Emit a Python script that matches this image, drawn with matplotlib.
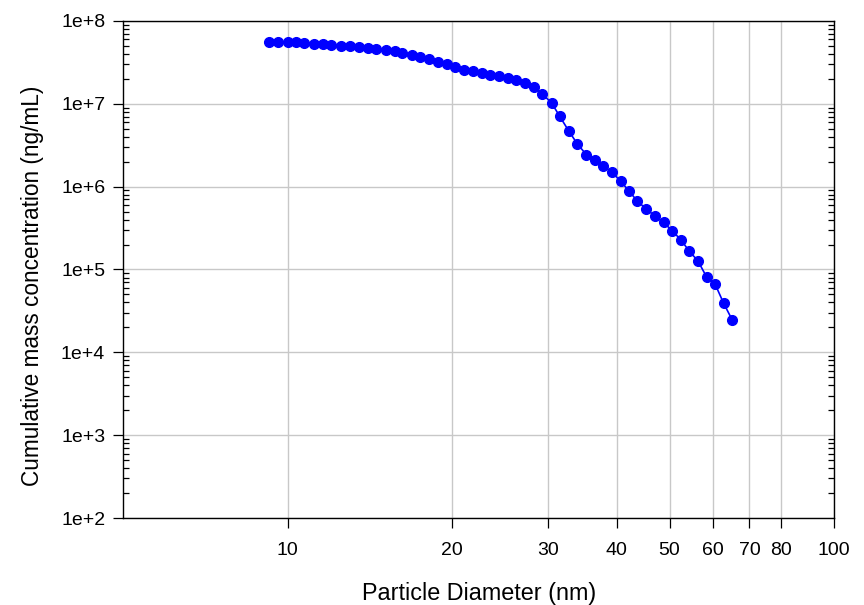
import numpy as np
import matplotlib
matplotlib.use('Agg')
from matplotlib import pyplot as plt
from matplotlib.ticker import FixedLocator, FixedFormatter, LogLocator, NullFormatter

plt.rcParams['font.family'] = ['Liberation Sans', 'DejaVu Sans']

# particle diameter (nm)
diam = [9.23, 9.61, 10.0, 10.34, 10.73, 11.19, 11.61, 12.02, 12.51, 13.01,
        13.52, 14.02, 14.52, 15.10, 15.69, 16.20, 16.88, 17.48, 18.16, 18.83,
        19.56, 20.27, 21.05, 21.86, 22.65, 23.49, 24.36, 25.27, 26.21, 27.23,
        28.24, 29.21, 30.42, 31.47, 32.69, 33.91, 35.22, 36.52, 37.84, 39.24,
        40.66, 42.15, 43.65, 45.29, 46.99, 48.74, 50.53, 52.42, 54.31, 56.35,
        58.45, 60.53, 62.80, 65.11]
# cumulative mass concentration (ng/mL)
mass = [5.53e7, 5.63e7, 5.58e7, 5.58e7, 5.47e7, 5.32e7, 5.23e7, 5.17e7, 5.03e7, 4.95e7,
        4.85e7, 4.72e7, 4.59e7, 4.47e7, 4.31e7, 4.14e7, 3.89e7, 3.71e7, 3.46e7, 3.23e7,
        3.00e7, 2.75e7, 2.58e7, 2.46e7, 2.36e7, 2.24e7, 2.15e7, 2.03e7, 1.94e7, 1.80e7,
        1.61e7, 1.33e7, 1.02e7, 7.07e6, 4.70e6, 3.27e6, 2.43e6, 2.08e6, 1.76e6, 1.50e6,
        1.16e6, 8.91e5, 6.65e5, 5.42e5, 4.42e5, 3.71e5, 2.94e5, 2.29e5, 1.67e5, 1.27e5,
        8.11e4, 6.74e4, 3.91e4, 2.46e4]

xticks = [10, 20, 30, 40, 50, 60, 70, 80, 100]
xticklabels = ['10', '20', '30', '40', '50', '60', '70', '80', '100']
yticks = [1e2, 1e3, 1e4, 1e5, 1e6, 1e7, 1e8]
yticklabels = ['1e+2', '1e+3', '1e+4', '1e+5', '1e+6', '1e+7', '1e+8']

fig = plt.figure(figsize=(8.64, 6.05), dpi=100)
ax = fig.add_axes([0.1427, 0.1438, 0.9653 - 0.1427, 0.9653 - 0.1438])

ax.plot(diam, mass, '-o', color='#0000ff', lw=1.2, ms=7, zorder=3)

ax.set_xscale('log')
ax.set_yscale('log')
ax.set_xlim(5, 100)
ax.set_ylim(1e2, 1e8)

ax.xaxis.set_major_locator(FixedLocator(xticks))
ax.xaxis.set_major_formatter(FixedFormatter(xticklabels))
ax.xaxis.set_minor_locator(FixedLocator([]))
ax.yaxis.set_major_locator(FixedLocator(yticks))
ax.yaxis.set_major_formatter(FixedFormatter(yticklabels))
ax.yaxis.set_minor_locator(LogLocator(base=10, subs=np.arange(2, 10)))
ax.yaxis.set_minor_formatter(NullFormatter())

ax.grid(True, which='major', color='#c8c8c8', lw=1.0, zorder=0)
ax.set_axisbelow(True)

ax.tick_params(axis='x', which='major', direction='out', length=7, width=0.9,
               labelsize=14, pad=10, top=False)
ax.tick_params(axis='y', which='major', direction='out', length=7, width=0.9,
               labelsize=14, pad=6, right=False)
ax.tick_params(axis='y', which='minor', direction='in', length=4, width=0.9,
               left=True, right=True)

for s in ax.spines.values():
    s.set_linewidth(1.0)
    s.set_color('black')

ax.set_xlabel('Particle Diameter (nm)', fontsize=16.8, labelpad=17)
ax.set_ylabel('Cumulative mass concentration (ng/mL)', fontsize=16.3)
ax.yaxis.set_label_coords(-0.112, 0.467)

fig.savefig('out.png', dpi=100)
